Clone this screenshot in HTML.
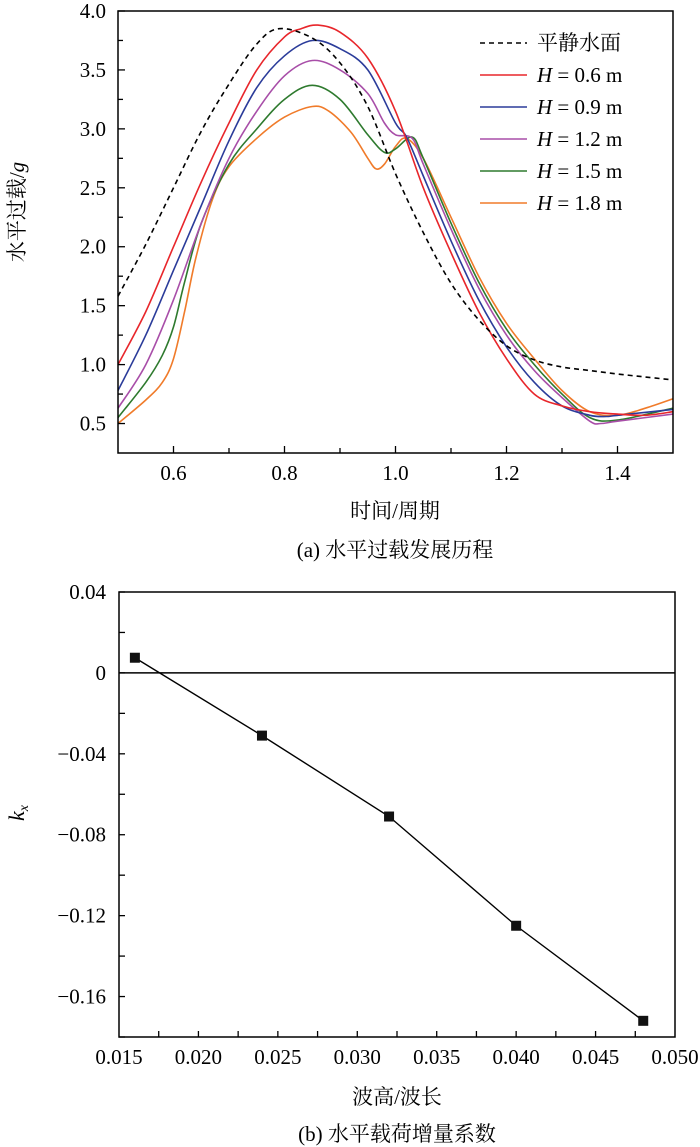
<!DOCTYPE html>
<html><head><meta charset="utf-8"><style>
body{margin:0;background:#fff}
svg{display:block;font-family:"Liberation Serif","Noto Serif CJK SC",serif}
</style></head><body>
<svg id="svg" width="700" height="1147" viewBox="0 0 700 1147">
<g id="top"></g>
<g id="bot"></g>
</svg>
<script>
// ---- chart (a) data ----
const calmT=[0.5,0.55,0.6,0.65,0.7,0.75,0.79,0.85,0.9,0.95,1.0,1.05,1.1,1.15,1.2,1.25,1.3,1.35,1.4,1.45,1.5];
const calmV=[1.58,2.02,2.5,2.98,3.38,3.72,3.85,3.77,3.56,3.19,2.62,2.12,1.69,1.38,1.16,1.04,0.98,0.95,0.92,0.895,0.87];
const h06T=[0.5,0.55,0.6,0.65,0.7,0.75,0.8,0.83,0.86,0.9,0.95,1.0,1.05,1.1,1.15,1.2,1.25,1.3,1.35,1.4,1.45,1.5];
const h06V=[1.0,1.45,2.0,2.55,3.05,3.5,3.78,3.85,3.88,3.82,3.6,3.15,2.5,1.95,1.45,1.05,0.75,0.65,0.6,0.58,0.57,0.6];
const h09T=[0.5,0.55,0.6,0.65,0.7,0.75,0.8,0.85,0.9,0.95,1.0,1.02,1.05,1.1,1.15,1.2,1.25,1.3,1.35,1.38,1.4,1.5];
const h09V=[0.78,1.25,1.8,2.35,2.9,3.35,3.62,3.75,3.68,3.5,3.05,2.93,2.6,2.05,1.55,1.15,0.85,0.65,0.57,0.56,0.57,0.62];
const h12T=[0.5,0.55,0.6,0.65,0.7,0.75,0.8,0.85,0.9,0.95,0.98,1.0,1.03,1.05,1.1,1.15,1.2,1.25,1.3,1.35,1.37,1.4,1.5];
const h12V=[0.63,1.0,1.55,2.2,2.75,3.15,3.45,3.58,3.5,3.3,3.05,2.95,2.92,2.7,2.15,1.65,1.25,0.95,0.72,0.52,0.5,0.52,0.58];
const h15T=[0.5,0.55,0.58,0.6,0.62,0.65,0.7,0.75,0.8,0.85,0.9,0.95,0.98,1.0,1.03,1.05,1.1,1.15,1.2,1.25,1.3,1.35,1.4,1.5];
const h15V=[0.55,0.85,1.08,1.32,1.7,2.2,2.7,3.0,3.25,3.37,3.25,2.95,2.8,2.83,2.93,2.75,2.2,1.7,1.3,1.0,0.75,0.55,0.53,0.63];
const h18T=[0.5,0.55,0.58,0.6,0.62,0.64,0.67,0.7,0.75,0.8,0.85,0.88,0.92,0.95,0.965,0.98,1.0,1.02,1.05,1.1,1.15,1.2,1.25,1.3,1.35,1.4,1.45,1.5];
const h18V=[0.5,0.7,0.85,1.05,1.45,1.9,2.4,2.68,2.92,3.1,3.19,3.15,2.97,2.75,2.66,2.7,2.85,2.92,2.75,2.25,1.75,1.35,1.05,0.78,0.6,0.57,0.63,0.71];
const aXTicks=[0.6,0.8,1.0,1.2,1.4];
const aYTicks=[0.5,1.0,1.5,2.0,2.5,3.0,3.5,4.0];
const legendLabels=["平静水面","0.6 m","0.9 m","1.2 m","1.5 m","1.8 m"];
// ---- chart (b) data ----
const ratios=[0.016,0.024,0.032,0.040,0.048];
const kx=[0.0075,-0.031,-0.071,-0.125,-0.172];
const bXTicks=["0.015","0.020","0.025","0.030","0.035","0.040","0.045","0.050"];
const bYTicks=[0.04,0,-0.04,-0.08,-0.12,-0.16];

const NS="http://www.w3.org/2000/svg";
function mk(p,tag,at,txt){const e=document.createElementNS(NS,tag);for(const k in at)e.setAttribute(k,at[k]);if(txt!=null)e.textContent=txt;p.appendChild(e);return e;}
function smooth(pts){let d="M"+pts[0][0]+","+pts[0][1];for(let i=0;i<pts.length-1;i++){const p0=pts[Math.max(0,i-1)],p1=pts[i],p2=pts[i+1],p3=pts[Math.min(pts.length-1,i+2)];const c1=[p1[0]+(p2[0]-p0[0])/6,p1[1]+(p2[1]-p0[1])/6],c2=[p2[0]-(p3[0]-p1[0])/6,p2[1]-(p3[1]-p1[1])/6];d+=" C"+c1[0].toFixed(1)+","+c1[1].toFixed(1)+" "+c2[0].toFixed(1)+","+c2[1].toFixed(1)+" "+p2[0].toFixed(1)+","+p2[1].toFixed(1);}return d;}

// chart a
const A=document.getElementById('top');
const aL=118,aR=673,aT=11,aB=453;
const ax=t=>aL+(t-0.5)*(aR-aL)/1.0;
const ay=v=>aT+(4.0-v)*(aB-aT)/3.75;
const series=[[calmT,calmV,"#000","calm-water-line"],[h06T,h06V,"#e8262b","h06-line"],[h09T,h09V,"#2b3c9a","h09-line"],[h12T,h12V,"#a84ea8","h12-line"],[h15T,h15V,"#2e7a2e","h15-line"],[h18T,h18V,"#f07b2a","h18-line"]];
for(let i=series.length-1;i>=0;i--){const s=series[i];
 const el=mk(A,'path',{d:smooth(s[0].map((t,j)=>[ax(t),ay(s[1][j])])),fill:"none",stroke:s[2],"stroke-width":1.6,"stroke-dasharray":i==0?"5,4":"none"});
 
 
}
mk(A,'rect',{x:aL,y:aT,width:aR-aL,height:aB-aT,fill:"none",stroke:"#000","stroke-width":1.5,});
for(let v=0.5;v<=4.0001;v+=0.25){mk(A,'line',{x1:aL,x2:aL+(Math.abs(v*2-Math.round(v*2))<0.01?7:5),y1:ay(v),y2:ay(v),stroke:"#000","stroke-width":1.3});}
for(let t=0.6;t<1.5;t+=0.1){mk(A,'line',{x1:ax(t),x2:ax(t),y1:aB,y2:aB-(Math.abs(t*5-Math.round(t*5))<0.01?7:5),stroke:"#000","stroke-width":1.3});}
aYTicks.forEach(v=>{const e=mk(A,'text',{x:106,y:ay(v)+7,"text-anchor":"end","font-size":21},v.toFixed(1));});
aXTicks.forEach(t=>{const e=mk(A,'text',{x:ax(t),y:480,"text-anchor":"middle","font-size":21},t.toFixed(1));});
mk(A,'text',{x:395,y:518,"text-anchor":"middle","font-size":21,},"时间/周期");
mk(A,'text',{x:395,y:557,"text-anchor":"middle","font-size":21,},"(a) 水平过载发展历程");
const yt=mk(A,'text',{transform:"translate(24,212) rotate(-90)","text-anchor":"middle","font-size":21,});
yt.innerHTML='水平过载/<tspan font-style="italic">g</tspan>';
legendLabels.forEach((lab,i)=>{const y=43+i*32;const s=series[i];
 const g=mk(A,'g',{});
 
 
 mk(g,'line',{x1:480,x2:527,y1:y,y2:y,stroke:s[2],"stroke-width":1.6,"stroke-dasharray":i==0?"5,4":"none"});
 const t=mk(g,'text',{x:537,y:y+7,"font-size":21});
 if(i==0)t.textContent=lab;else t.innerHTML='<tspan font-style="italic">H</tspan> = '+lab;
});

// chart b
const B=document.getElementById('bot');
const bL=119,bR=675,bT=592,bB=1037;
const bx=r=>bL+(r-0.015)*(bR-bL)/0.035;
const by=v=>bT+(0.04-v)*(bB-bT)/0.22;
mk(B,'rect',{x:bL,y:bT,width:bR-bL,height:bB-bT,fill:"none",stroke:"#000","stroke-width":1.5,});
mk(B,'line',{x1:bL,x2:bR,y1:by(0),y2:by(0),stroke:"#000","stroke-width":1.5,});
for(let v=-0.18;v<=0.0401;v+=0.02){mk(B,'line',{x1:bL,x2:bL+6,y1:by(v),y2:by(v),stroke:"#000","stroke-width":1.3});}
for(let r=0.0175;r<0.05;r+=0.0025){mk(B,'line',{x1:bx(r),x2:bx(r),y1:bB,y2:bB-6,stroke:"#000","stroke-width":1.3});}
bYTicks.forEach(v=>{const e=mk(B,'text',{x:106,y:by(v)+7,"text-anchor":"end","font-size":21},v==0?"0":(v<0?"−":"")+Math.abs(v).toFixed(2));});
bXTicks.forEach(s=>{const e=mk(B,'text',{x:bx(parseFloat(s)),y:1064,"text-anchor":"middle","font-size":21},s);});
const ln=mk(B,'polyline',{points:ratios.map((r,i)=>bx(r)+","+by(kx[i])).join(" "),fill:"none",stroke:"#000","stroke-width":1.4});


ratios.forEach((r,i)=>{const m=mk(B,'rect',{x:bx(r)-5,y:by(kx[i])-5,width:10,height:10,fill:"#111"});
 
 });
mk(B,'text',{x:397,y:1104,"text-anchor":"middle","font-size":21,},"波高/波长");
mk(B,'text',{x:397,y:1141,"text-anchor":"middle","font-size":21,},"(b) 水平载荷增量系数");
const kt=mk(B,'text',{transform:"translate(24,813) rotate(-90)","text-anchor":"middle","font-size":22,"font-style":"italic",});
kt.innerHTML='k<tspan font-size="14" dy="4">x</tspan>';
</script>
</body></html>
